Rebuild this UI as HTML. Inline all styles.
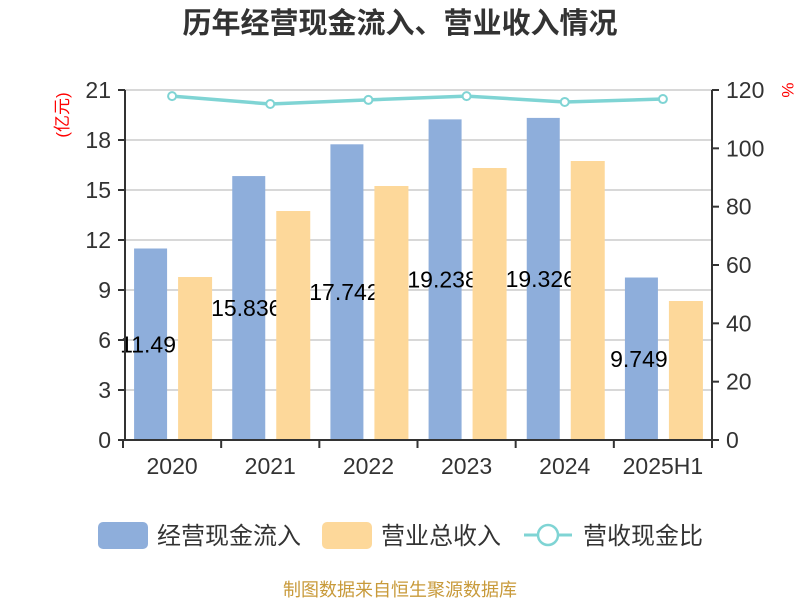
<!DOCTYPE html>
<html><head><meta charset="utf-8"><style>
body{margin:0;background:#fff;}
svg{font-family:"Liberation Sans","Noto Sans CJK SC",sans-serif;}
</style></head><body>
<svg id="chart" width="800" height="600" xmlns="http://www.w3.org/2000/svg">
<text x="400" y="33" text-anchor="middle" font-size="29" font-weight="bold" fill="#333">历年经营现金流入、营业收入情况</text>
<text transform="translate(68,115) rotate(-90)" text-anchor="middle" font-size="17" fill="#f00">(亿元)</text>
<text transform="translate(782,90) rotate(90)" text-anchor="middle" font-size="17" fill="#f00">%</text>
<g id="grid"></g><g id="bars"></g><g id="axes"></g><g id="line"></g>
<g>
<rect x="98" y="522" width="50" height="27" rx="5" fill="#8eaedb"/>
<text x="157" y="544" font-size="24" fill="#333">经营现金流入</text>
<rect x="322" y="522" width="50" height="27" rx="5" fill="#fdd89a"/>
<text x="381" y="544" font-size="24" fill="#333">营业总收入</text>
<line x1="524" y1="535" x2="572" y2="535" stroke="#7fd4d4" stroke-width="3"/>
<circle cx="548" cy="535" r="10" fill="#fff" stroke="#7fd4d4" stroke-width="2.5"/>
<text x="583" y="544" font-size="24" fill="#333">营收现金比</text>
</g>
<text x="400" y="596" text-anchor="middle" font-size="18" fill="#c89a3a">制图数据来自恒生聚源数据库</text>
</svg>
<script>
const categories=["2020","2021","2022","2023","2024","2025H1"];
const cashInflow=[11.49,15.836,17.742,19.238,19.326,9.749];
const revenue=[9.78,13.74,15.24,16.32,16.74,8.34];
const ratio=[117.9,115.2,116.6,117.9,115.9,116.9];
const leftTicks=[0,3,6,9,12,15,18,21];
const rightTicks=[0,20,40,60,80,100,120];
const NS="http://www.w3.org/2000/svg";
const X0=123,X1=712,Y0=440,Y1=90;
const band=(X1-X0)/categories.length;
const yL=v=>Y0-(v/21)*(Y0-Y1);
const yR=v=>Y0-(v/120)*(Y0-Y1);
const xc=i=>X0+band*(i+0.5);
function mk(tag,attrs,parent,txt){const e=document.createElementNS(NS,tag);for(const k in attrs)e.setAttribute(k,attrs[k]);if(txt!==undefined)e.textContent=txt;document.getElementById(parent).appendChild(e);return e;}
leftTicks.forEach(t=>{
 const g=mk('line',{x1:X0+2,x2:X1,y1:yL(t),y2:yL(t),stroke:'#ccc','stroke-width':1.5},'grid');
 
 
 const tk=mk('line',{x1:118,x2:125,y1:yL(t),y2:yL(t),stroke:'#333','stroke-width':2},'axes');
 
 
 const l=mk('text',{x:111,y:yL(t)+8,'text-anchor':'end','font-size':23,fill:'#333'},'axes',t);
 
 
});
rightTicks.forEach(t=>{
 const tk=mk('line',{x1:712,x2:719,y1:yR(t),y2:yR(t),stroke:'#333','stroke-width':2},'axes');
 
 
 const l=mk('text',{x:726,y:yR(t)+8,'font-size':23,fill:'#333'},'axes',t);
 
 
});
let a=mk('line',{x1:125,x2:125,y1:Y1,y2:Y0,stroke:'#333','stroke-width':2},'axes');


a=mk('line',{x1:712,x2:712,y1:Y1,y2:Y0,stroke:'#333','stroke-width':2},'axes');


a=mk('line',{x1:123,x2:712,y1:Y0,y2:Y0,stroke:'#333','stroke-width':2},'axes');


for(let i=0;i<=categories.length;i++){
 const t=mk('line',{x1:X0+band*i,x2:X0+band*i,y1:Y0,y2:448,stroke:'#333','stroke-width':2},'axes');
 
 
}
categories.forEach((c,i)=>{
 const l=mk('text',{x:xc(i),y:474,'text-anchor':'middle','font-size':23,fill:'#333'},'axes',c);
 
 
 const b=mk('rect',{x:xc(i)-38,y:yL(cashInflow[i]),width:33,height:Y0-yL(cashInflow[i]),fill:'#8eaedb'},'bars');
 
 
 const v=mk('text',{x:xc(i)-24,y:(yL(cashInflow[i])+Y0)/2+8,'text-anchor':'middle','font-size':23,fill:'#000'},'bars',cashInflow[i]);
 
 
});
categories.forEach((c,i)=>{
 const b=mk('rect',{x:xc(i)+6,y:yL(revenue[i]),width:34,height:Y0-yL(revenue[i]),fill:'#fdd89a'},'bars');
 
 
});
const pl=mk('polyline',{points:ratio.map((r,i)=>xc(i)+','+yR(r)).join(' '),fill:'none',stroke:'#7fd4d4','stroke-width':3.5},'line');


ratio.forEach((r,i)=>{
 const p=mk('circle',{cx:xc(i),cy:yR(r),r:4,fill:'#fff',stroke:'#7fd4d4','stroke-width':2},'line');
 
 
});
</script>
</body></html>
